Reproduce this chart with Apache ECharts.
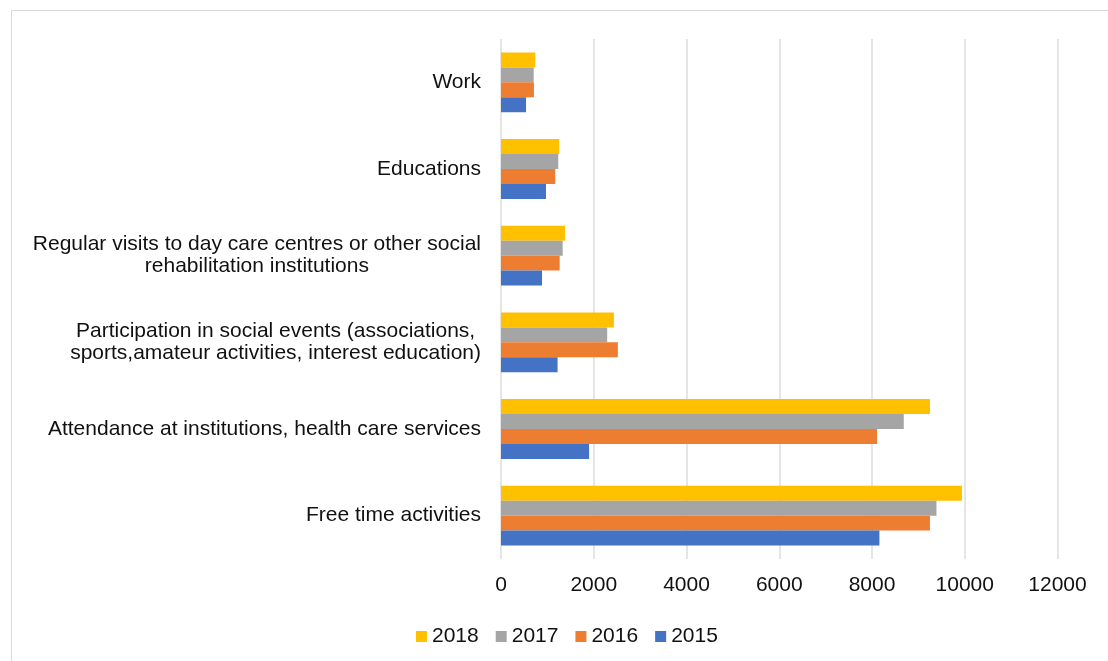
<!DOCTYPE html>
<html>
<head>
<meta charset="utf-8">
<script src="https://cdn.jsdelivr.net/npm/echarts@6/dist/echarts.min.js"></script>
<style>
  html, body { margin: 0; padding: 0; background: #fff; }
  #main { width: 1108px; height: 661px; }
</style>
</head>
<body>
<div id="main"></div>
<script>
const dom = document.getElementById('main');

// categories bottom to top
const categories = [
  'Free time activities',
  'Attendance at institutions, health care services',
  'Participation in social events (associations,\nsports,amateur activities, interest education)',
  'Regular visits to day care centres or other social\nrehabilitation institutions',
  'Educations',
  'Work',
];

const values2015 = [8160, 1900, 1220, 885, 970, 540];
const values2016 = [9250, 8110, 2520, 1265, 1170, 710];
const values2017 = [9390, 8685, 2290, 1330, 1235, 705];
const values2018 = [9940, 9250, 2435, 1380, 1255, 740];

const legendOrder = ['2018', '2017', '2016', '2015'];
const xTicks = { min: 0, max: 12000, interval: 2000 };

const font = 'Liberation Sans, Arial, sans-serif';

function barSeries(name, data, color) {
  return {
    name: name,
    type: 'bar',
    data: data,
    barGap: '0%',
    barCategoryGap: '31%',
    itemStyle: { color: color },
  };
}

const myChart = echarts.init(dom);
myChart.setOption({
  animation: false,
  graphic: [{
    type: 'rect',
    shape: { x: 11.5, y: 10.5, width: 1200, height: 800 },
    style: { fill: 'none', stroke: '#d9d9d9', lineWidth: 1 },
    silent: true,
  }],
  grid: { left: 501, right: 50.5, top: 39, bottom: 102, containLabel: false },
  legend: {
    data: legendOrder,
    left: 411,
    top: 621,
    icon: 'rect',
    itemWidth: 11,
    itemHeight: 11,
    itemGap: 17,
    textStyle: { fontSize: 21, color: '#111', fontFamily: font },
  },
  xAxis: {
    type: 'value',
    min: xTicks.min,
    max: xTicks.max,
    interval: xTicks.interval,
    axisLine: { show: false },
    axisTick: { show: false },
    splitLine: { lineStyle: { color: '#dcdcdc', width: 1.5 } },
    axisLabel: {
      fontSize: 21, color: '#111', fontFamily: font, margin: 16,
      formatter: (v) => String(v),
    },
  },
  yAxis: {
    type: 'category',
    data: categories,
    axisLine: { show: false },
    axisTick: { show: false },
    axisLabel: {
      margin: 20,
      formatter: (v) => '{c|' + v + '}',
      rich: {
        c: { align: 'center', fontSize: 21, lineHeight: 22, color: '#111', fontFamily: font },
      },
    },
  },
  // first series is drawn at the top of each group
  series: [
    barSeries('2018', values2018, '#FFC000'),
    barSeries('2017', values2017, '#A5A5A5'),
    barSeries('2016', values2016, '#ED7D31'),
    barSeries('2015', values2015, '#4472C4'),
  ],
});
</script>
</body>
</html>
